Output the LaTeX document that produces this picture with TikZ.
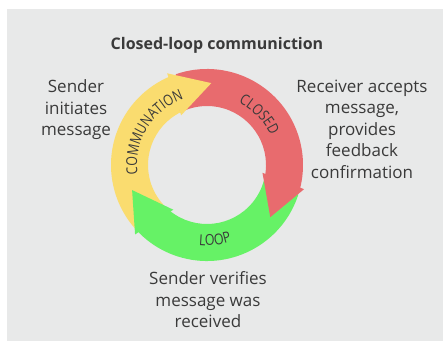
\documentclass[tikz,border=0pt]{standalone}
\usepackage{fontspec}
\setmainfont{Open Sans}
\newfontfamily\arcfamily[FakeStretch=0.83]{Open Sans}
\usetikzlibrary{decorations.text,calc}

\definecolor{panelgray}{HTML}{E8E9E9}
\definecolor{ringyellow}{HTML}{FADC6F}
\definecolor{ringred}{HTML}{E86B6E}
\definecolor{ringgreen}{HTML}{66F266}
\definecolor{inkgray}{HTML}{3A3A3A}

\newcommand{\arcfont}{\arcfamily\fontsize{15}{15}\selectfont}

\begin{document}
\begin{tikzpicture}[x=1pt,y=1pt,
  caption/.style={inner sep=0pt, text=inkgray, align=center,
    font=\fontsize{17}{21.5}\selectfont},
  headline/.style={inner sep=0pt, text=inkgray,
    font=\fontsize{16}{19}\selectfont\bfseries},
  ringtext/.style={decorate, decoration={text along path, text align=center,
    text color=inkgray, text={|\arcfont|#1}}}]

% page and grey panel
\useasboundingbox (0,0) rectangle (443,-342);
\fill[panelgray] (7,-9) rectangle (443,-341);

\coordinate (c) at (207,-165);

% ring bands (tails run under the neighbouring arrow heads)
\fill[ringyellow] ($(c)+(221:96)$) arc[start angle=221, end angle=111.5, radius=96]
  -- ($(c)+(115.5:59)$) arc[start angle=115.5, end angle=232, radius=59] -- cycle;
\fill[ringred] ($(c)+(109:96)$) arc[start angle=109, end angle=-16, radius=96]
  -- ($(c)+(-10:59)$) arc[start angle=-10, end angle=117, radius=59] -- cycle;
\fill[ringgreen] ($(c)+(-18:96)$) arc[start angle=-18, end angle=-138, radius=96]
  -- ($(c)+(-129:59)$) arc[start angle=-129, end angle=-9, radius=59] -- cycle;

% arrow heads
\fill[ringyellow] ($(c)+(113.5:100)$) -- ($(c)+(87:82)$) -- ($(c)+(117.5:56)$) -- cycle;
\fill[ringred] ($(c)+(-14:100)$) -- ($(c)+(-39.5:82)$) -- ($(c)+(-8:56)$) -- cycle;
\fill[ringgreen] ($(c)+(-136:100)$) -- ($(c)+(-161.5:79)$) -- ($(c)+(-127:56)$) -- cycle;

% words set along the ring
\path[ringtext=COMMUNATION] ($(c)+(206:70)$) arc[start angle=206, end angle=91, radius=70];
\path[ringtext=CLOSED] ($(c)+(80:70)$) arc[start angle=80, end angle=8, radius=70];
\path[ringtext=LOOP] ($(c)+(246:80.5)$) arc[start angle=246, end angle=306, radius=80.5];

% captions
\node[headline, anchor=base] (title) at (217,-49.5) {Closed-loop communiction};
\node[caption] (sender) at (76,-110) {Sender\\initiates\\message};
\node[caption] (receiver) at (362,-129) {Receiver accepts\\message,\\provides\\feedback\\confirmation};
\node[caption] (verify) at (208,-300) {Sender verifies\\message was\\received};
\end{tikzpicture}
\end{document}
